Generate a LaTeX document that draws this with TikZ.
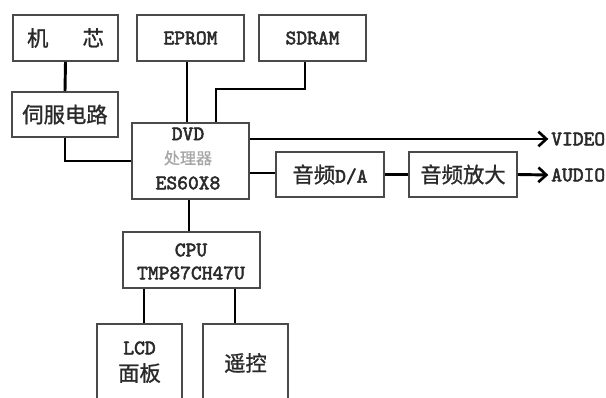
\documentclass[tikz,border=0pt]{standalone}
\usepackage{fontspec}
\newfontfamily\lat{lmmono10-regular.otf}[FakeBold=2.5]
\newfontfamily\cjk{Noto Sans CJK SC}[FakeBold=1]
\usetikzlibrary{arrows.meta}
\definecolor{boxline}{HTML}{4A4A4A}
\definecolor{txt}{HTML}{2A2A2A}
\tikzset{
  box/.style={draw=boxline, line width=1.5pt, inner sep=0pt, text=txt, align=center},
  lbl/.style={inner sep=0pt, text=txt, align=center},
  conn/.style={draw=black, line width=2.2pt},
  arr/.style={conn, -{Straight Barb[length=6pt,width=11pt,line width=2pt]}},
  lt/.style={font=\lat\fontsize{15.4pt}{18pt}\selectfont},
  ck/.style={font=\cjk\fontsize{16pt}{19pt}\selectfont},
}
\begin{document}
\begin{tikzpicture}[x=0.75pt,y=-0.75pt]
\useasboundingbox[fill=white] (0,0) rectangle (606,398);
% boxes
\node[box, ck, minimum width=105*0.75pt, minimum height=46*0.75pt] (jx) at (65.5,38) {机\hspace{1.6em}芯};
\node[box, lt, minimum width=107*0.75pt, minimum height=46*0.75pt] (ep) at (190.5,38) {EPROM};
\node[box, lt, minimum width=107*0.75pt, minimum height=46*0.75pt] (sd) at (312.5,38) {SDRAM};
\node[box, ck, minimum width=106*0.75pt, minimum height=45*0.75pt] (sf) at (65,114.5) {伺服电路};
\node[box, minimum width=117*0.75pt, minimum height=76*0.75pt] (dvd) at (190.5,161) {};
\node[lbl, lt] (dvdt) at (188,134) {DVD};
\node[lbl, font=\cjk\fontsize{12pt}{14pt}\selectfont, text=gray!70] (dvdc) at (188,158) {处理器};
\node[lbl, lt] (dvde) at (188,183) {ES60X8};
\node[box, minimum width=108*0.75pt, minimum height=45*0.75pt] (da) at (330,174.5) {\cjk\fontsize{16pt}{19pt}\selectfont 音频\lat\fontsize{15.4pt}{18pt}\selectfont D/A};
\node[box, ck, minimum width=108*0.75pt, minimum height=45*0.75pt] (amp) at (463,174.5) {音频放大};
\node[lbl, lt, anchor=west] (video) at (551,139) {VIDEO};
\node[lbl, lt, anchor=west] (audio) at (551,175) {AUDIO};
\node[box, minimum width=137*0.75pt, minimum height=56*0.75pt] (cpu) at (191.5,260) {};
\node[lbl, lt] (cput) at (191,250) {CPU};
\node[lbl, lt] (cpum) at (191,273) {TMP87CH47U};
\node[box, minimum width=85*0.75pt, minimum height=96*0.75pt] (lcd) at (139.5,372) {};
\node[lbl, lt] (lcdt) at (139.5,348) {LCD};
\node[lbl, ck] (lcdc) at (139.5,373) {面板};
\node[box, minimum width=85*0.75pt, minimum height=96*0.75pt] (yk) at (245.5,372) {};
\node[lbl, ck] (ykt) at (245.5,363) {遥控};
% connectors
\coordinate (s1) at (216,89);
\draw[conn] (jx.south) -- (sf.north);
\draw[conn] ([xshift=-3.5*0.75pt]ep.south) -- ([xshift=-3.5*0.75pt]ep.south |- dvd.north);
\draw[conn] ([xshift=-7.5*0.75pt]sd.south) |- (s1) -- (s1 |- dvd.north);
\draw[conn] (sf.south) |- (dvd.west);
\draw[arr] (video.west -| dvd.east) -- ([xshift=-2pt]video.west);
\draw[conn] ([yshift=1.5*0.75pt]da.west -| dvd.east) -- ([yshift=1.5*0.75pt]da.west);
\draw[conn] (da.east) -- (amp.west);
\draw[arr] (amp.east) -- ([xshift=-2pt]audio.west);
\draw[conn] ([xshift=-1.5*0.75pt]dvd.south) -- ([xshift=-1.5*0.75pt]dvd.south |- cpu.north);
\draw[conn] ([xshift=4.5*0.75pt]lcd.north |- cpu.south) -- ([xshift=4.5*0.75pt]lcd.north);
\draw[conn] ([xshift=-10.5*0.75pt]yk.north |- cpu.south) -- ([xshift=-10.5*0.75pt]yk.north);
\end{tikzpicture}
\end{document}
